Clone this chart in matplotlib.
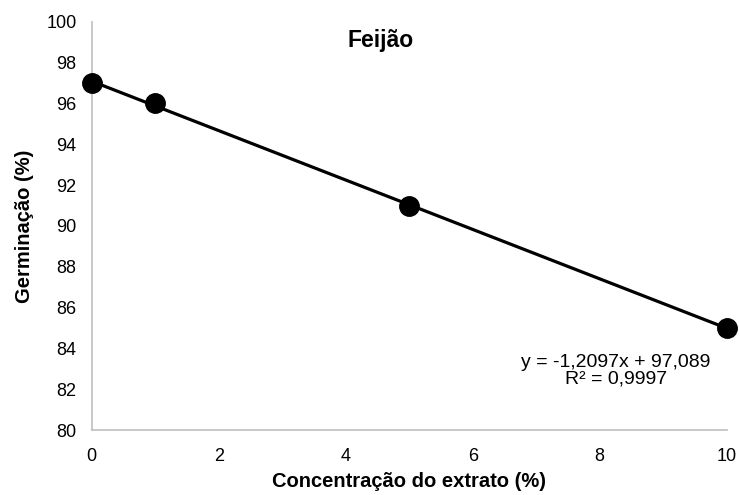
import numpy as np
import matplotlib
matplotlib.use("Agg")
import matplotlib.pyplot as plt

plt.rcParams['font.family'] = ['Liberation Sans', 'DejaVu Sans']

# Data
concentracao = [0, 1, 5, 10]
germinacao = [97, 96, 91, 85]

# Linear trendline
slope, intercept = np.polyfit(concentracao, germinacao, 1)
x_fit = np.array([min(concentracao), max(concentracao)])
y_fit = slope * x_fit + intercept

fig = plt.figure(figsize=(7.4, 4.95), dpi=100)
ax = fig.add_axes([0.124, 0.131, 0.858, 0.825])

ax.plot(x_fit, y_fit, color='black', linewidth=2.3, zorder=2)
ax.plot(concentracao, germinacao, 'o', color='black', markersize=14, zorder=3, clip_on=False)

ax.set_xlim(0, 10)
ax.set_ylim(80, 100)
ax.set_xticks(range(0, 11, 2))
ax.set_yticks(range(80, 101, 2))
ax.tick_params(length=0, labelsize=13)
ax.tick_params(axis='x', pad=13)
ax.tick_params(axis='y', pad=11)

for side in ['top', 'right']:
    ax.spines[side].set_visible(False)
for side in ['left', 'bottom']:
    ax.spines[side].set_color('#BFBFBF')
    ax.spines[side].set_linewidth(1.2)

ax.set_xlabel('Concentração do extrato (%)', fontsize=14.5, fontweight='bold', labelpad=5)
ax.set_ylabel('Germinação (%)', fontsize=14.5, fontweight='bold', labelpad=9)
ax.text(0.455, 0.955, 'Feijão', transform=ax.transAxes, ha='center', va='center',
        fontsize=16.5, fontweight='bold')

ax.text(0.825, 0.145, 'y = -1,2097x + 97,089\nR² = 0,9997', transform=ax.transAxes,
        ha='center', va='center', fontsize=14, linespacing=1.0)

fig.savefig('out.png', dpi=100)
